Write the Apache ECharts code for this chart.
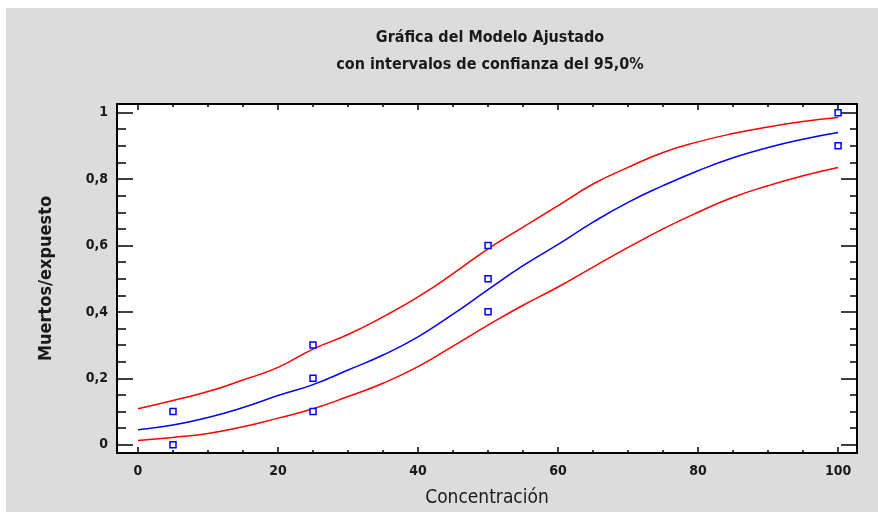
<!DOCTYPE html>
<html>
<head>
<meta charset="utf-8">
<script src="https://cdn.jsdelivr.net/npm/echarts@6/dist/echarts.min.js"></script>
<style>
  html, body { margin: 0; padding: 0; background: #ffffff; }
  #chart { position: absolute; left: 6px; top: 8px; width: 872px; height: 504px; background: #dcdcdc; }
</style>
</head>
<body>
<div id="chart"></div>
<script>
// concentration grid the curves were read at
const conc = [0, 5, 10, 15, 20, 25, 30, 35, 40, 45, 50, 55, 60, 65, 70, 75, 80, 85, 90, 95, 100];
const fitted = [0.045, 0.059, 0.082, 0.112, 0.148, 0.181, 0.225, 0.27, 0.325, 0.393, 0.467, 0.539, 0.603, 0.67, 0.73, 0.78, 0.825, 0.864, 0.895, 0.92, 0.94];
const upper = [0.108, 0.133, 0.16, 0.195, 0.233, 0.288, 0.332, 0.385, 0.445, 0.515, 0.59, 0.655, 0.72, 0.785, 0.835, 0.88, 0.912, 0.937, 0.957, 0.973, 0.985];
const lower = [0.013, 0.022, 0.034, 0.054, 0.08, 0.108, 0.145, 0.185, 0.235, 0.297, 0.36, 0.42, 0.475, 0.535, 0.594, 0.65, 0.7, 0.745, 0.78, 0.81, 0.835];

// observed points (muertos / expuesto)
const obsX = [5, 5, 25, 25, 25, 50, 50, 50, 100, 100];
const obsY = [0.1, 0, 0.3, 0.2, 0.1, 0.6, 0.5, 0.4, 1, 0.9];

const xMajor = [0, 20, 40, 60, 80, 100];
const xMinor = [5, 10, 15, 25, 30, 35, 45, 50, 55, 65, 70, 75, 85, 90, 95];
const yMajor = [0, 0.2, 0.4, 0.6, 0.8, 1];
const yMinor = [0.05, 0.1, 0.15, 0.25, 0.3, 0.35, 0.45, 0.5, 0.55, 0.65, 0.7, 0.75, 0.85, 0.9, 0.95];

const FONT = "'DejaVu Sans Condensed', 'Liberation Sans', Arial, sans-serif";
const X_MIN = -3, X_MAX = 102.7;
const Y_MIN = -0.025, Y_MAX = 1.026;

const chart = echarts.init(document.getElementById('chart'));

function xAx(pos, ticks, len, withLine, withLabel) {
  return {
    type: 'value', position: pos, min: X_MIN, max: X_MAX,
    axisLine: { show: withLine, onZero: false, lineStyle: { color: '#000', width: 2 } },
    axisTick: { show: true, inside: true, length: len, customValues: ticks, lineStyle: { color: '#000', width: 1.5 } },
    axisLabel: withLabel ? { show: true, customValues: ticks, margin: 11, color: '#1a1a1a', fontSize: 14, fontWeight: 'bold', fontFamily: FONT } : { show: false },
    splitLine: { show: false }
  };
}

function yAx(pos, ticks, len, withLine, withLabel) {
  return {
    type: 'value', position: pos, min: Y_MIN, max: Y_MAX,
    axisLine: { show: withLine, onZero: false, lineStyle: { color: '#000', width: 2 } },
    axisTick: { show: true, inside: true, length: len, customValues: ticks, lineStyle: { color: '#000', width: 1.5 } },
    axisLabel: withLabel ? {
      show: true, customValues: ticks, margin: 9, color: '#1a1a1a', fontSize: 14, fontWeight: 'bold', fontFamily: FONT,
      formatter: v => String(Math.round(v * 10) / 10).replace('.', ',')
    } : { show: false },
    splitLine: { show: false }
  };
}

const xBottom = xAx('bottom', xMajor, 6, true, true);
xBottom.name = 'Concentración';
xBottom.nameLocation = 'middle';
xBottom.nameGap = 36;
xBottom.nameTextStyle = { color: '#1a1a1a', fontSize: 19, fontFamily: FONT };

const yLeft = yAx('left', yMajor, 16, true, true);
yLeft.name = 'Muertos/expuesto';
yLeft.nameLocation = 'middle';
yLeft.nameGap = 62;
yLeft.nameTextStyle = { color: '#1a1a1a', fontSize: 18, fontWeight: 'bold', fontFamily: FONT };

const option = {
  animation: false,
  title: {
    text: 'Gráfica del Modelo Ajustado\ncon intervalos de confianza del 95,0%',
    left: 479, top: 11, textAlign: 'center',
    textStyle: { color: '#1a1a1a', fontSize: 16, fontWeight: 'bold', lineHeight: 27, fontFamily: FONT }
  },
  grid: {
    left: 111, top: 96, right: 21, bottom: 59, outerBoundsMode: 'none',
    show: true, backgroundColor: '#ffffff', borderWidth: 0
  },
  xAxis: [
    xBottom,
    xAx('bottom', xMinor, 3, false, false),
    xAx('top', xMajor, 6, true, false),
    xAx('top', xMinor, 3, false, false)
  ],
  yAxis: [
    yLeft,
    yAx('left', yMinor, 9, false, false),
    yAx('right', yMajor, 16, true, false),
    yAx('right', yMinor, 7, false, false)
  ],
  series: [
    {
      name: 'superior', type: 'line', smooth: true, symbol: 'none',
      data: conc.map((c, i) => [c, upper[i]]),
      lineStyle: { color: '#ff0000', width: 1.5 }
    },
    {
      name: 'ajustado', type: 'line', smooth: true, symbol: 'none',
      data: conc.map((c, i) => [c, fitted[i]]),
      lineStyle: { color: '#0000ff', width: 1.5 }
    },
    {
      name: 'inferior', type: 'line', smooth: true, symbol: 'none',
      data: conc.map((c, i) => [c, lower[i]]),
      lineStyle: { color: '#ff0000', width: 1.5 }
    },
    {
      name: 'observado', type: 'scatter', symbol: 'rect', symbolSize: 6, z: 5,
      data: obsX.map((c, i) => [c, obsY[i]]),
      itemStyle: { color: '#ffffff', borderColor: '#0000ff', borderWidth: 1.5, opacity: 1 }
    }
  ]
};

chart.setOption(option);
</script>
</body>
</html>
